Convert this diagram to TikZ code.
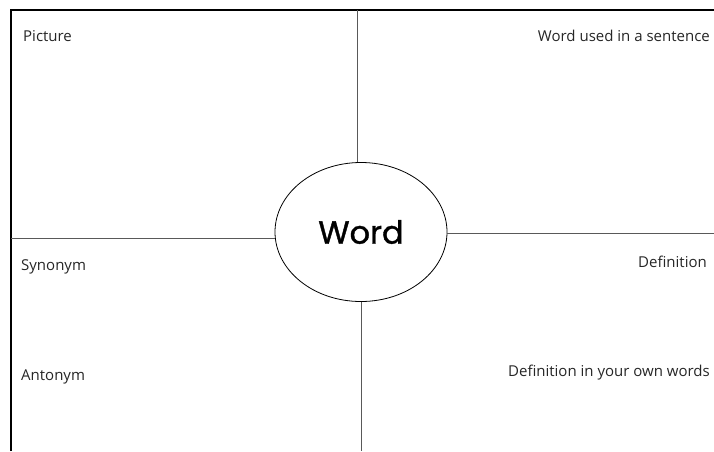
\documentclass[tikz,border=0pt]{standalone}
\usepackage{fontspec}
\setmainfont{Open Sans}
\newfontfamily\wordfont{Poppins}[FakeBold=1.2]
\usetikzlibrary{positioning,shapes.geometric}
\tikzset{
  frame/.style={draw=black, line width=1.4pt},
  divider/.style={draw=black!65, line width=0.9pt},
  label/.style={font=\fontsize{15}{18}\selectfont, text=black!85, inner sep=0pt},
}
\begin{document}
\begin{tikzpicture}[x=1pt, y=-1pt]
    \useasboundingbox (0,0) rectangle (714,451);
    \coordinate (corner) at (11,10);
    \coordinate (topright) at (714,10);
    \coordinate (botleft) at (11,451);
    \draw[frame] (botleft) -- (corner) -- (topright);
    \node[draw, ellipse, line width=0.8pt, minimum width=172pt, minimum height=139pt, inner sep=0pt,
      font=\wordfont\fontsize{32}{36}\selectfont] (word) at (361,232) {Word};
    \coordinate (top) at (357,10);
    \coordinate (left) at (11,237);
    \coordinate (right) at (714,233);
    \coordinate (bottom) at (360,451);
    \draw[divider] (word.93.3) -- (word.93.3 |- top);
    \draw[divider] (word.184.1) -- (word.184.1 -| left);
    \draw[divider] (word.359.2) -- (word.359.2 -| right);
    \draw[divider] (word.270.7) -- (word.270.7 |- bottom);
    \node[label, anchor=west] (picture) at (23,36) {Picture};
    \node[label, anchor=east] (sentence) at (710,36) {Word used in a sentence};
    \node[label, anchor=west] (synonym) at (21,267) {Synonym};
    \node[label, anchor=east] (definition) at (707,262) {Definition};
    \node[label, anchor=west] (antonym) at (21,377) {Antonym};
    \node[label, anchor=east] (ownwords) at (710,373) {Definition in your own words};
\end{tikzpicture}
\end{document}
